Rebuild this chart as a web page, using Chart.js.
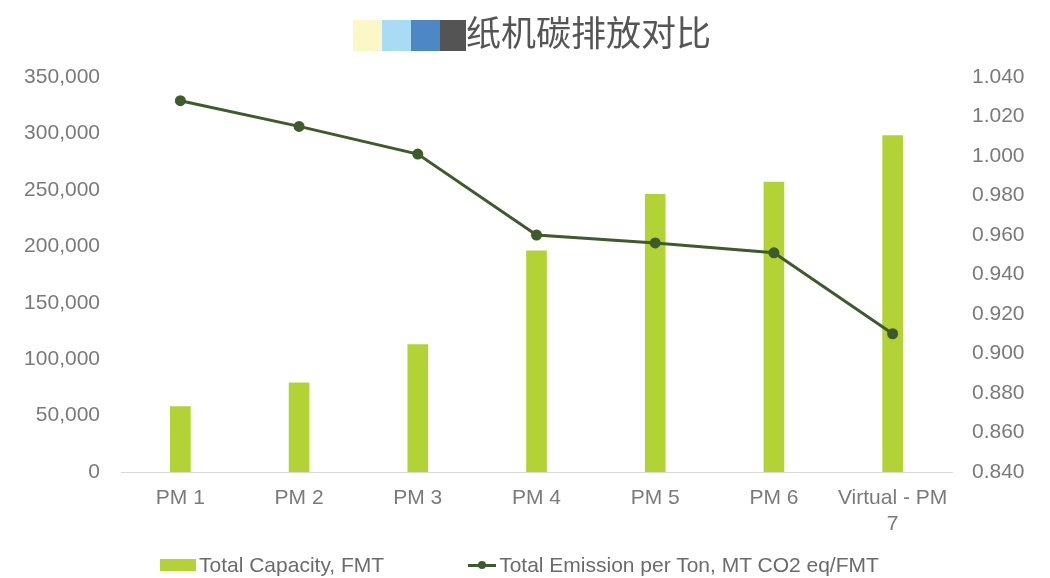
<!DOCTYPE html>
<html>
<head>
<meta charset="utf-8">
<script src="https://cdn.jsdelivr.net/npm/chart.js@4/dist/chart.umd.min.js"></script>
<style>
  html, body { margin: 0; padding: 0; background: #fff; }
  #wrap { position: relative; width: 1050px; height: 578px; }
  #title { position: absolute; left: 353px; top: 8px; height: 44px; display: flex; align-items: center;
           font-family: "Noto Sans CJK SC", sans-serif; font-size: 35px; color: #555; }
  #title .sq { display: inline-block; width: 29px; height: 31px; margin-top: 10px; }
  #legend { position: absolute; left: 160px; top: 553px; font-family: "Liberation Sans", Arial, sans-serif;
            font-size: 21px; color: #6b6b6b; display: flex; align-items: center; }
  #legend .item { display: flex; align-items: center; }
  #legend .box { width: 36px; height: 12px; background: #b3d236; margin-right: 3px; }
  #legend .ln { position: relative; width: 28px; height: 3px; background: #3f5a2c; margin-right: 3px; }
  #legend .ln::after { content: ''; position: absolute; left: 10px; top: -3px; width: 8px; height: 8px; border-radius: 50%; background: #3f5a2c; }
</style>
</head>
<body>
<div id="wrap">
  <canvas id="chart" width="1050" height="578"></canvas>
  <div id="title">
    <span class="sq" style="background:#fbf7c6"></span><span class="sq" style="background:#a9dcf4"></span><span class="sq" style="background:#4d87c4"></span><span class="sq" style="background:#555455;width:26px"></span><span>纸机碳排放对比</span>
  </div>
  <div id="legend">
    <div class="item"><span class="box"></span>Total Capacity, FMT</div>
    <div class="item" style="margin-left:84px"><span class="ln"></span>Total Emission per Ton, MT CO2 eq/FMT</div>
  </div>
</div>
<script>
const categories = ['PM 1', 'PM 2', 'PM 3', 'PM 4', 'PM 5', 'PM 6', ['Virtual - PM', '7']];
const capacity = [58000, 79000, 113000, 196000, 246000, 257000, 298000];
const emission = [1.028, 1.015, 1.001, 0.960, 0.956, 0.951, 0.910];

const tickFont = { family: '"Liberation Sans", Arial, sans-serif', size: 21, lineHeight: 1.25 };
const tickColor = '#7a7a7a';

new Chart(document.getElementById('chart'), {
    data: {
        labels: categories,
        datasets: [
            { type: 'line', label: 'Total Emission per Ton, MT CO2 eq/FMT', data: emission, yAxisID: 'y2',
              borderColor: '#3f5a2c', backgroundColor: '#3f5a2c', borderWidth: 3, pointRadius: 4, tension: 0, order: 0 },
            { type: 'bar', label: 'Total Capacity, FMT', data: capacity, yAxisID: 'y',
              backgroundColor: '#b3d236', barThickness: 20, order: 1 }
        ]
    },
    options: {
        responsive: false,
        animation: false,
        layout: { padding: { top: 77, bottom: 36, left: 0, right: 0 } },
        plugins: { legend: { display: false }, title: { display: false }, tooltip: { enabled: false } },
        scales: {
            x: {
                grid: { display: false },
                border: { color: '#d9d9d9', width: 1 },
                ticks: { font: tickFont, color: tickColor, maxRotation: 0, autoSkip: false, padding: 5 },
                afterFit: s => { s.height = 70; }
            },
            y: {
                position: 'left', min: 0, max: 350000,
                grid: { display: false }, border: { display: false },
                ticks: { stepSize: 50000, font: tickFont, color: tickColor, padding: 13,
                         callback: v => v.toLocaleString('en-US') },
                afterFit: s => { s.width = 121; }
            },
            y2: {
                position: 'right', min: 0.84, max: 1.04,
                grid: { display: false }, border: { display: false },
                ticks: { stepSize: 0.02, font: tickFont, color: tickColor, padding: 12,
                         callback: v => v.toFixed(3) },
                afterFit: s => { s.width = 98; }
            }
        }
    }
});
</script>
</body>
</html>
